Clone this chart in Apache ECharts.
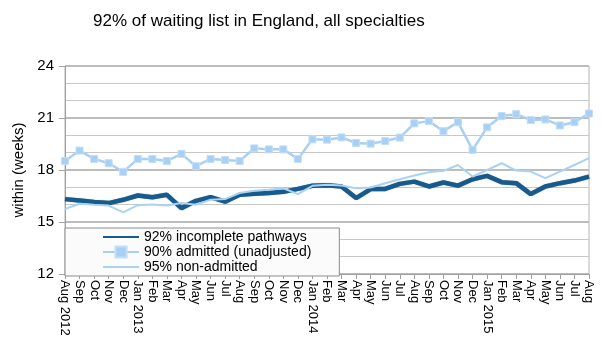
<!DOCTYPE html>
<html>
<head>
<meta charset="utf-8">
<script src="https://cdn.jsdelivr.net/npm/echarts@6/dist/echarts.min.js"></script>
<style>
  html, body { margin: 0; padding: 0; background: #fff; }
  #chart { width: 602px; height: 354px; }
</style>
</head>
<body>
<div id="chart"></div>
<script>
// months Aug 2012 .. Aug 2015
var months = ['Aug 2012','Sep','Oct','Nov','Dec','Jan 2013','Feb','Mar','Apr','May','Jun','Jul',
              'Aug','Sep','Oct','Nov','Dec','Jan 2014','Feb','Mar','Apr','May','Jun','Jul',
              'Aug','Sep','Oct','Nov','Dec','Jan 2015','Feb','Mar','Apr','May','Jun','Jul','Aug'];

var incomplete = [16.32,16.24,16.15,16.09,16.28,16.53,16.43,16.57,15.80,16.22,16.43,16.17,
                  16.57,16.63,16.67,16.74,16.91,17.09,17.12,17.05,16.38,16.90,16.91,17.20,
                  17.33,17.05,17.28,17.10,17.47,17.66,17.30,17.24,16.61,17.05,17.24,17.39,17.62];

var admitted = [18.52,19.12,18.64,18.39,17.89,18.64,18.64,18.52,18.93,18.22,18.64,18.58,
                18.52,19.25,19.19,19.19,18.64,19.77,19.75,19.88,19.56,19.52,19.67,19.87,
                20.69,20.82,20.24,20.76,19.16,20.46,21.11,21.22,20.88,20.92,20.57,20.76,21.26];

var nonAdmitted = [15.75,16.05,15.99,15.95,15.55,15.97,16.01,15.95,16.09,16.00,16.28,16.32,
                   16.67,16.80,16.86,16.95,16.61,17.09,17.15,17.10,16.95,16.99,17.24,17.47,
                   17.68,17.87,17.95,18.29,17.62,18.00,18.39,17.97,17.91,17.53,17.91,18.29,18.68];

var yTicks = [12, 24, 3];  // min, max, step

var chart = echarts.init(document.getElementById('chart'));
var font = 'Liberation Sans, Arial, Helvetica, sans-serif';

var option = {
    animation: false,
    title: {
        text: '92% of waiting list in England, all specialties',
        left: 88,
        top: 8,
        textStyle: { fontFamily: font, fontSize: 17, fontWeight: 'normal', color: '#000' }
    },
    grid: {
        left: 65, right: 13, top: 66, bottom: 80,
        show: true,
        borderColor: '#b4b4b4',
        borderWidth: 1
    },
    legend: {
        orient: 'vertical',
        left: 65,
        top: 228,
        padding: [2, 28, 2, 37],
        itemGap: 1,
        itemWidth: 36,
        itemHeight: 14,
        backgroundColor: '#fbfbfb',
        borderColor: '#8c8c8c',
        borderWidth: 1,
        textStyle: { fontFamily: font, fontSize: 14, color: '#000' },
        data: [
            { name: '92% incomplete pathways', itemStyle: { opacity: 0 } },
            { name: '90% admitted (unadjusted)' },
            { name: '95% non-admitted', itemStyle: { opacity: 0 } }
        ]
    },
    xAxis: {
        type: 'category',
        boundaryGap: false,
        data: months,
        axisLine: { lineStyle: { color: '#a0a0a0', width: 1 } },
        axisTick: { show: true, length: 5, interval: 0, lineStyle: { color: '#a0a0a0' } },
        axisLabel: {
            interval: 0,
            rotate: -90,
            margin: 6,
            fontFamily: font,
            fontSize: 13,
            color: '#000'
        },
        splitLine: { show: false }
    },
    yAxis: {
        type: 'value',
        min: yTicks[0],
        max: yTicks[1],
        interval: yTicks[2],
        name: 'within (weeks)',
        nameLocation: 'middle',
        nameGap: 36,
        nameTextStyle: { fontFamily: font, fontSize: 15, color: '#000' },
        axisLine: { show: true, lineStyle: { color: '#a0a0a0' } },
        axisTick: { show: true, length: 6, lineStyle: { color: '#a0a0a0' } },
        axisLabel: { fontFamily: font, fontSize: 15, color: '#000', margin: 11 },
        splitLine: { show: true, lineStyle: { color: '#bcbcbc', width: 2 } },
        minorTick: { show: false, splitNumber: 3 },
        minorSplitLine: { show: true, lineStyle: { color: '#c8c8c8', width: 1 } }
    },
    series: [
        {
            name: '92% incomplete pathways',
            type: 'line',
            data: incomplete,
            symbol: 'none',
            color: '#175a8e',
            lineStyle: { width: 4.5, color: '#175a8e', shadowColor: 'rgba(10,50,90,0.5)', shadowBlur: 1 }
        },
        {
            name: '90% admitted (unadjusted)',
            type: 'line',
            data: admitted,
            symbol: 'rect',
            symbolSize: 7,
            color: '#a8d0f5',
            itemStyle: { color: '#a8d0f5', borderColor: '#c4def7', borderWidth: 1 },
            lineStyle: { width: 2.5, color: '#a8d0f5' }
        },
        {
            name: '95% non-admitted',
            type: 'line',
            data: nonAdmitted,
            symbol: 'none',
            color: '#a9d2f3',
            lineStyle: { width: 2, color: '#a9d2f3' }
        }
    ]
};
chart.setOption(option);
</script>
</body>
</html>
